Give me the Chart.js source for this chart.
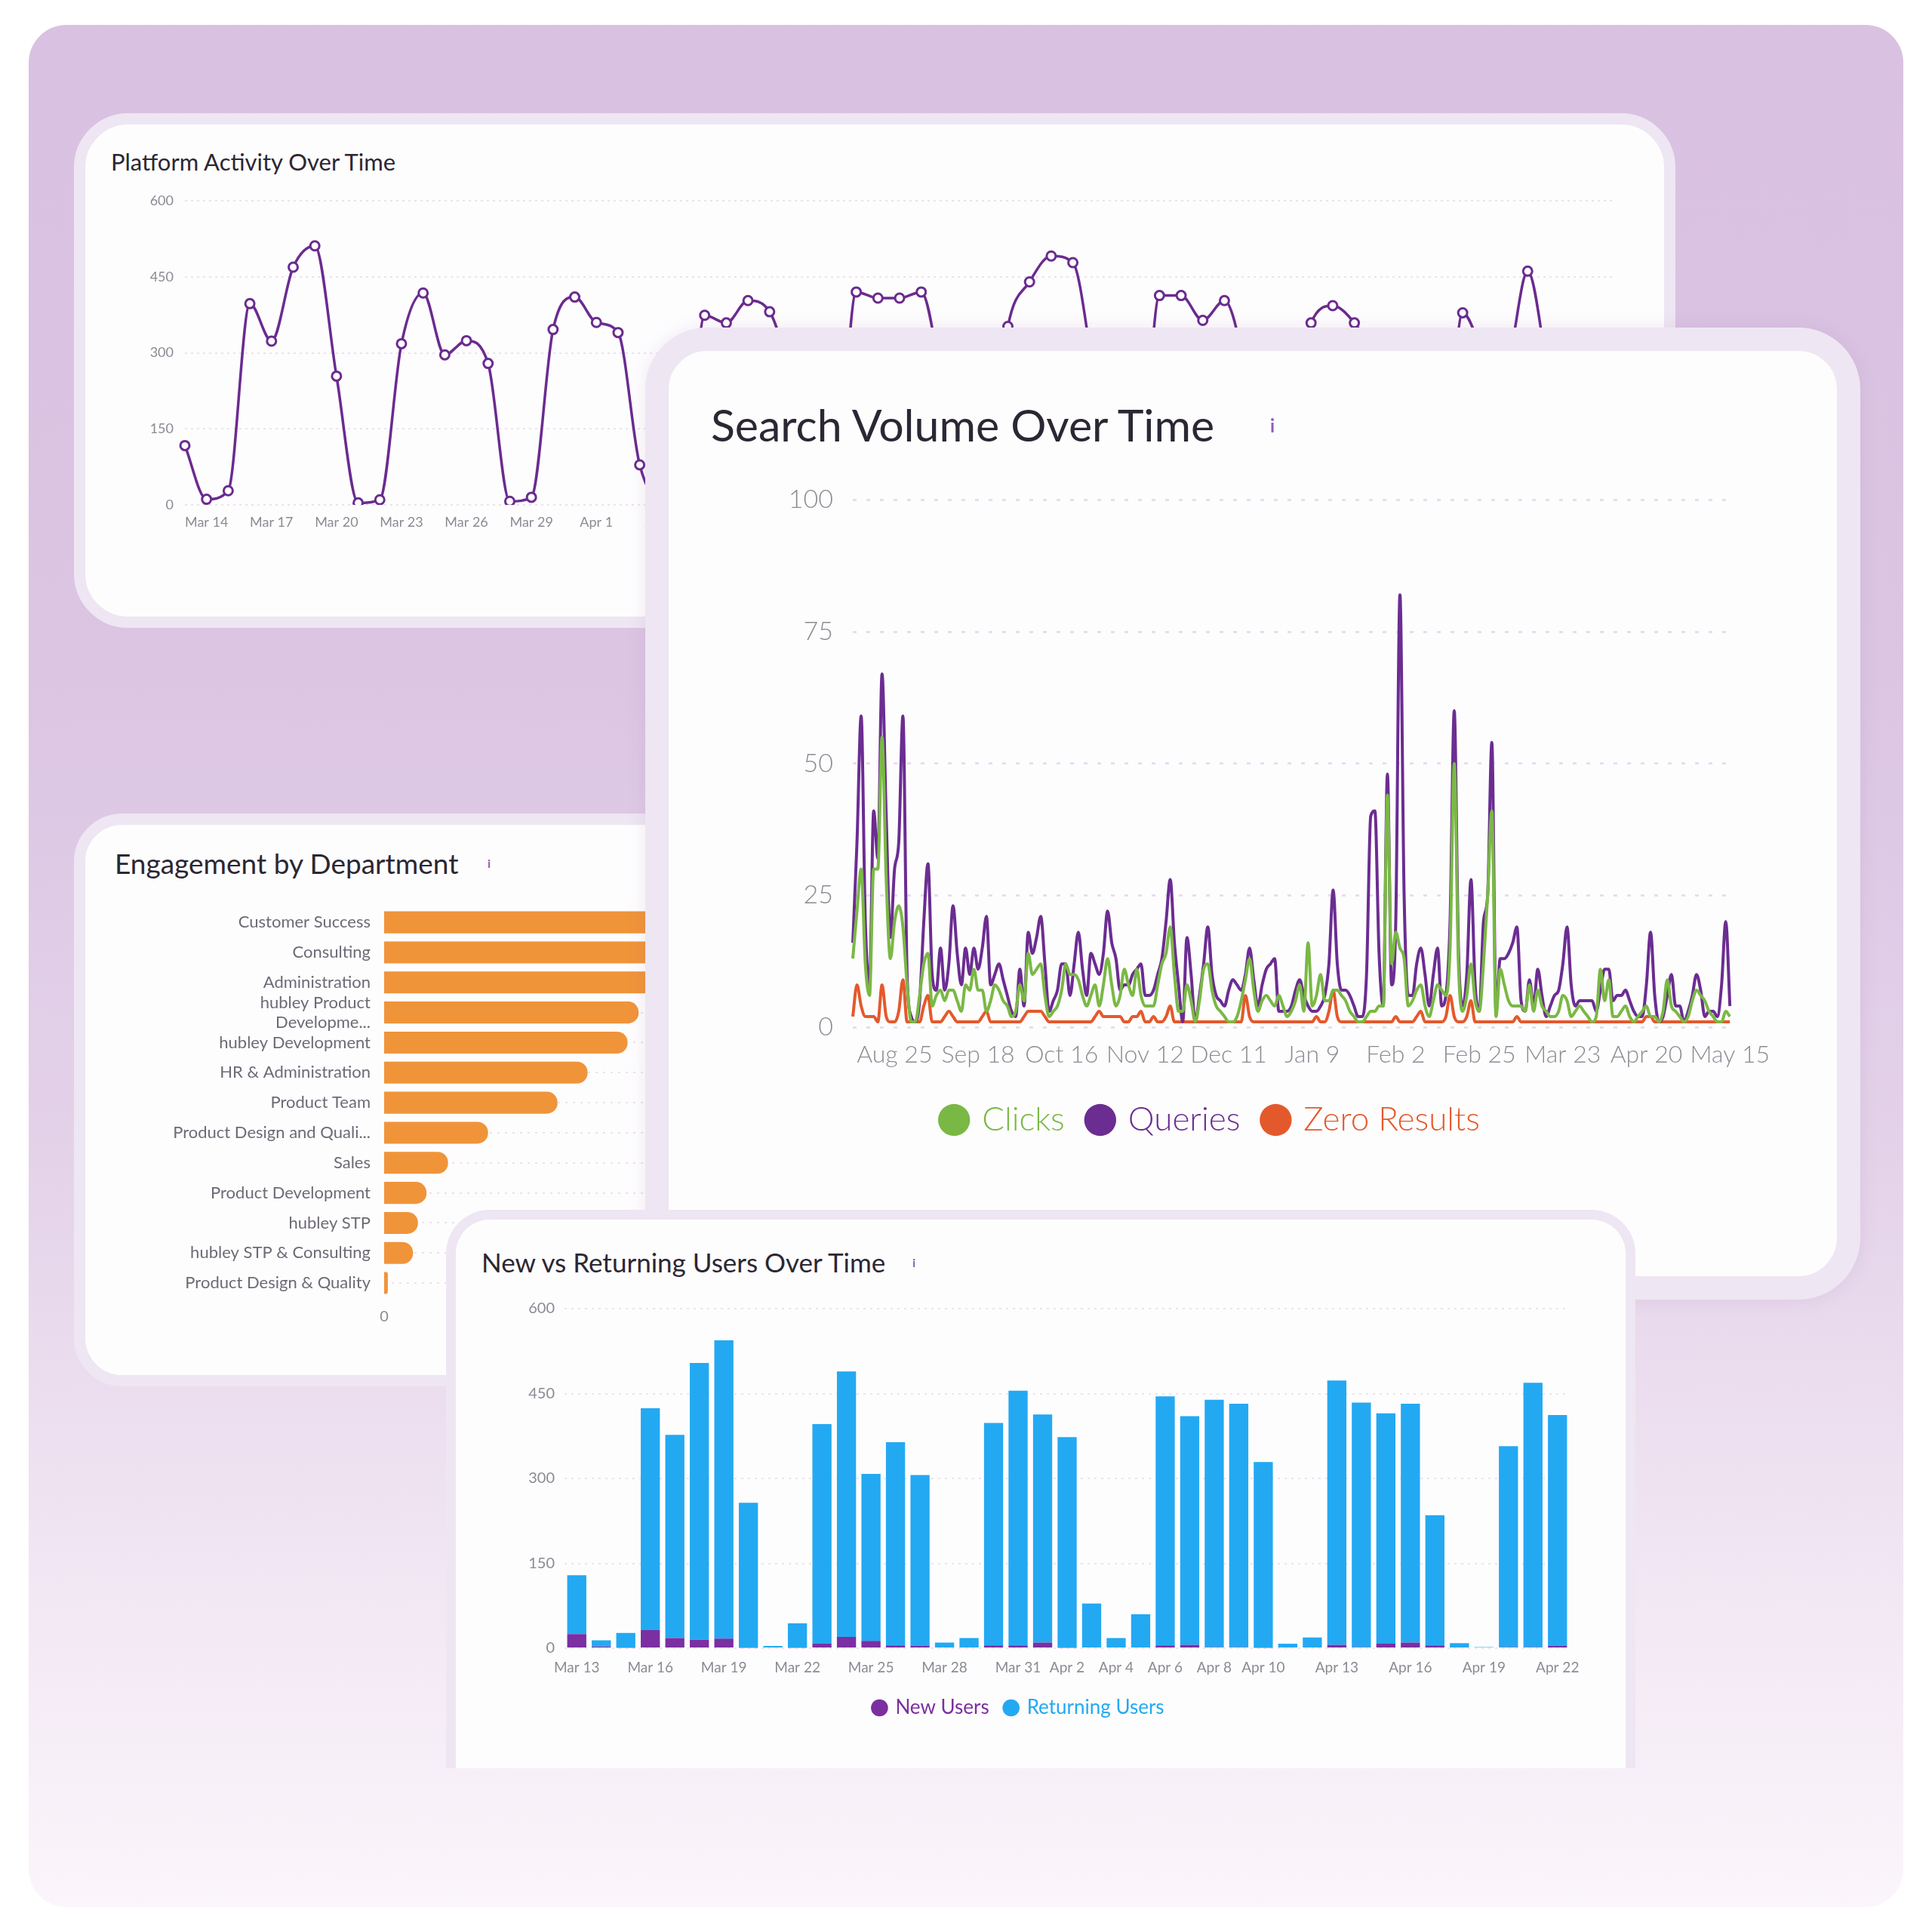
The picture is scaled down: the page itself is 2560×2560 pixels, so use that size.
<!DOCTYPE html>
<html>
<head>
<meta charset="utf-8">
<script src="https://cdn.jsdelivr.net/npm/chart.js@4.4.1/dist/chart.umd.min.js"></script>
<style>
  html, body { margin: 0; padding: 0; background: #fff; }
  body { width: 2560px; height: 2560px; position: relative; overflow: hidden; font-family: Lato, 'Open Sans', sans-serif; }
  .bg { position: absolute; left: 38px; top: 33px; width: 2484px; height: 2494px; border-radius: 50px;
        background: linear-gradient(180deg, #d9c1e1 0%, #dbc5e3 35%, #e4d2e9 60%, #f1e6f3 82%, #fbf6fb 100%); }
  .layer { position: absolute; left: 0; top: 0; }
  .card { position: absolute; box-sizing: border-box; background: #fefdfe; border: 15px solid #eee6f2; }
  .title { position: absolute; color: #2b2733; white-space: nowrap; line-height: 1; }
  .info { position: absolute; color: #8e5bc4; font-weight: 700; line-height: 1; }
  canvas { position: absolute; }
</style>
</head>
<body>
<div class="bg"></div>

<div class="layer" style="z-index:1">
  <div class="card" style="left:98px;top:150px;width:2122px;height:682px;border-radius:72px;"></div>
  <div class="title" style="left:147px;top:199px;font-size:31px;">Platform Activity Over Time</div>
  <canvas id="platform-chart" width="2093" height="480" style="left:114px;top:240px;"></canvas>
</div>

<div class="layer" style="z-index:2">
  <div class="card" style="left:98px;top:1078px;width:1320px;height:759px;border-radius:64px;"></div>
  <div class="title" style="left:152px;top:1125px;font-size:37px;">Engagement by Department</div>
  <div class="info" style="left:646px;top:1136px;font-size:16px;">i</div>
  <canvas id="engagement-chart" width="1248" height="594" style="left:114px;top:1171px;"></canvas>
</div>

<div class="layer" style="z-index:3">
  <div class="card" style="left:855px;top:434px;width:1610px;height:1288px;border-radius:82px;border-width:31px;box-shadow:0 0 24px rgba(140,90,160,0.12);"></div>
  <div class="title" style="left:942px;top:533px;font-size:59px;">Search Volume Over Time</div>
  <div class="info" style="left:1683px;top:552px;font-size:24px;">i</div>
  <canvas id="search-chart" width="1477" height="900" style="left:885px;top:616px;"></canvas>
</div>

<div class="layer" style="z-index:4">
  <div class="card" style="left:591px;top:1603px;width:1576px;height:740px;border-radius:58px 58px 0 0;border-width:13px 13px 0 13px;"></div>
  <div class="title" style="left:638px;top:1655px;font-size:35px;">New vs Returning Users Over Time</div>
  <div class="info" style="left:1209px;top:1665px;font-size:16px;">i</div>
  <canvas id="users-chart" width="1506" height="586" style="left:604px;top:1700px;"></canvas>
</div>

<script>
// ---- Platform Activity Over Time ----
const platformDates = [
  'Mar 13','Mar 14','Mar 15','Mar 16','Mar 17','Mar 18','Mar 19','Mar 20','Mar 21','Mar 22',
  'Mar 23','Mar 24','Mar 25','Mar 26','Mar 27','Mar 28','Mar 29','Mar 30','Mar 31','Apr 1',
  'Apr 2','Apr 3','Apr 4','Apr 5','Apr 6','Apr 7','Apr 8','Apr 9','Apr 10','Apr 11',
  'Apr 12','Apr 13','Apr 14','Apr 15','Apr 16','Apr 17','Apr 18','Apr 19','Apr 20','Apr 21',
  'Apr 22','Apr 23','Apr 24','Apr 25','Apr 26','Apr 27','Apr 28','Apr 29','Apr 30','May 1',
  'May 2','May 3','May 4','May 5','May 6','May 7','May 8','May 9','May 10','May 11',
  'May 12','May 13','May 14','May 15','May 16','May 17','May 18'
];
const platformActivity = [
  117, 11, 28, 397, 323, 469, 511, 254, 4, 10,
  318, 418, 296, 324, 279, 7, 15, 346, 410, 360,
  340, 79, 12, 10, 374, 359, 403, 381, 240, 9,
  14, 420, 408, 408, 420, 230, 8, 12, 352, 440,
  491, 478, 250, 10, 9, 413, 413, 364, 403, 260,
  11, 8, 359, 393, 359, 290, 210, 7, 12, 379,
  300, 280, 461, 240, 9, 6, 320
];

// ---- Engagement by Department ----
const departments = [
  'Customer Success', 'Consulting', 'Administration', ['hubley Product', 'Developme...'],
  'hubley Development', 'HR & Administration', 'Product Team', 'Product Design and Quali...',
  'Sales', 'Product Development', 'hubley STP', 'hubley STP & Consulting', 'Product Design & Quality'
];
const departmentEngagement = [540, 510, 470, 414, 396, 331, 282, 169, 104, 69, 55, 47, 6];

// ---- Search Volume Over Time ----
const searchTickLabels = ['Aug 25', 'Sep 18', 'Oct 16', 'Nov 12', 'Dec 11', 'Jan 9', 'Feb 2', 'Feb 25', 'Mar 23', 'Apr 20', 'May 15'];
const searchTickStart = 10;
const searchTickStep = 20;
const searchClicks = [
  13,22,30,12,6,30,30,55,28,13, 20,23,19,8,1,1,6,12,14,4, 6,7,5,7,7,5,3,8,7,11, 7,7,3,5,8,7,5,4,2,3,
  8,5,14,10,11,12,6,2,3,4, 7,12,10,10,
  9,6,4,6,8,4,8,13,8,4, 6,11,8,6,11,6,4,4,4,8, 12,14,19,10,3,3,8,5,1,5, 11,12,7,4,3,2,1,1,2,5,
  9,13,7,3,5,6,5,4,6,4, 2,3,5,8,
  3,16,4,6,10,5,5,7,7,6, 5,3,2,1,1,2,3,3,4,4, 44,12,18,15,13,4,5,7,8,4, 2,5,8,7,6,15,50,12,3,6,
  12,5,3,12,25,41,2,11,8,5, 4,4,4,3,
  8,3,7,4,3,2,2,3,6,5, 2,3,4,3,2,1,2,11,5,9, 2,2,3,4,2,1,2,3,4,2, 2,1,3,9,4,3,2,1,2,5,
  7,6,5,3,2,1,1,3,2
];
const searchQueries = [
  16,35,59,20,8,41,32,67,40,17, 30,35,59,10,2,1,5,20,31,10, 7,15,7,12,23,14,8,15,10,15, 11,15,21,8,10,12,9,6,3,2,
  11,4,18,14,17,21,12,3,5,7, 12,12,6,12,
  18,11,6,14,12,10,14,22,16,13, 7,8,8,10,11,12,6,6,7,10, 13,20,28,16,8,1,17,10,1,6, 12,19,10,6,5,4,7,9,8,7,
  10,15,9,4,8,11,12,13,3,3, 3,4,7,9,
  6,4,3,3,4,6,12,26,12,7, 7,6,4,2,2,10,40,41,14,4, 48,8,20,82,25,6,6,12,15,10, 4,10,15,4,6,20,60,15,4,10,
  28,8,3,20,25,54,3,13,13,14, 16,19,5,3,
  9,4,11,6,2,4,6,7,12,19, 8,4,5,5,5,5,3,7,11,11, 5,6,6,7,5,3,2,2,8,18, 6,1,2,6,10,4,4,1,3,6,
  10,7,2,3,3,2,8,20,4
];
const searchZeroResults = [
  2,8,4,2,2,2,1,8,2,1, 1,3,9,1,1,1,1,4,6,1, 1,1,2,3,2,1,1,1,1,1, 1,2,3,1,1,1,1,1,1,1,
  1,2,3,3,3,3,2,1,1,1, 1,1,1,1,
  1,1,1,1,2,3,2,2,2,2, 2,1,1,2,2,3,1,1,2,1, 1,2,4,1,1,1,1,1,1,1, 1,1,1,1,1,1,1,1,1,1,
  6,2,1,1,1,1,1,1,1,1, 1,1,1,1,
  1,1,1,2,1,1,3,7,2,1, 1,1,1,1,1,1,1,1,1,1, 1,1,2,1,1,1,1,2,3,1, 1,1,1,1,2,6,2,1,1,2,
  5,1,1,1,1,1,1,1,1,1, 1,2,1,1,
  1,1,1,1,1,1,1,1,1,1, 1,1,1,1,1,1,1,1,1,1, 1,1,1,1,1,1,1,1,2,2, 1,1,1,1,1,1,1,1,1,1,
  1,1,1,1,1,1,1,1,1
];

// ---- New vs Returning Users Over Time ----
const userDates = [
  'Mar 13','Mar 14','Mar 15','Mar 16','Mar 17','Mar 18','Mar 19','Mar 20','Mar 21','Mar 22',
  'Mar 23','Mar 24','Mar 25','Mar 26','Mar 27','Mar 28','Mar 29','Mar 30','Mar 31','Apr 1',
  'Apr 2','Apr 3','Apr 4','Apr 5','Apr 6','Apr 7','Apr 8','Apr 9','Apr 10','Apr 11',
  'Apr 12','Apr 13','Apr 14','Apr 15','Apr 16','Apr 17','Apr 18','Apr 19','Apr 20','Apr 21','Apr 22'
];
const userTickLabels = ['Mar 13','Mar 16','Mar 19','Mar 22','Mar 25','Mar 28','Mar 31','Apr 2','Apr 4','Apr 6','Apr 8','Apr 10','Apr 13','Apr 16','Apr 19','Apr 22'];
const newUsers = [25, 3, 1, 32, 18, 15, 17, 1, 0, 1, 8, 20, 13, 5, 4, 0, 0, 5, 5, 10, 1, 0, 0, 0, 5, 6, 2, 2, 1, 0, 0, 6, 2, 8, 10, 5, 0, 0, 2, 2, 4];
const returningUsers = [104, 11, 26, 392, 359, 489, 527, 256, 4, 43, 388, 469, 295, 359, 302, 10, 18, 393, 450, 403, 372, 79, 18, 60, 440, 404, 437, 430, 328, 8, 19, 467, 432, 407, 422, 230, 9, 2, 355, 467, 408];

const PURPLE = '#6a2b8f';
const GRID = '#ebe2ef';

Chart.defaults.font.family = "Lato, 'Open Sans', sans-serif";
Chart.defaults.color = '#8d8a93';

function fixWidth(w) { return scale => { scale.width = w; }; }
function fixHeight(h) { return scale => { scale.height = h; }; }

function coloredLegendLabels(chart) {
    const items = Chart.defaults.plugins.legend.labels.generateLabels(chart);
    items.forEach(item => {
        item.fontColor = chart.data.datasets[item.datasetIndex].borderColor;
        item.lineWidth = 0;
    });
    return items;
}

function renderPlatformChart() {
    const ctx = document.getElementById('platform-chart');
    new Chart(ctx, {
        type: 'line',
        data: {
            labels: platformDates,
            datasets: [{
                data: platformActivity,
                borderColor: PURPLE,
                borderWidth: 3.5,
                cubicInterpolationMode: 'monotone',
                pointRadius: 6,
                pointBorderWidth: 3,
                pointBackgroundColor: '#fff',
                pointBorderColor: PURPLE
            }]
        },
        options: {
            responsive: false,
            animation: false,
            layout: { padding: { top: 26, right: 68, bottom: 0, left: 0 } },
            plugins: { legend: { display: false }, tooltip: { enabled: false } },
            scales: {
                x: {
                    afterFit: fixHeight(51),
                    grid: { display: false, drawTicks: false },
                    border: { display: false },
                    ticks: {
                        autoSkip: false, maxRotation: 0, padding: 12, font: { size: 18 },
                        callback(value, i) { return (i - 1) % 3 === 0 ? this.getLabelForValue(value) : ''; }
                    }
                },
                y: {
                    min: 0, max: 600,
                    afterFit: fixWidth(131),
                    grid: { color: GRID, lineWidth: 2, drawTicks: false },
                    border: { display: false, dash: [3, 5] },
                    ticks: { stepSize: 150, padding: 15, font: { size: 18 } }
                }
            }
        }
    });
}

function renderEngagementChart() {
    const ctx = document.getElementById('engagement-chart');
    new Chart(ctx, {
        type: 'bar',
        data: {
            labels: departments,
            datasets: [{
                data: departmentEngagement,
                backgroundColor: '#f0943a',
                borderRadius: 14,
                borderSkipped: 'start',
                barPercentage: 0.73,
                categoryPercentage: 1
            }]
        },
        options: {
            indexAxis: 'y',
            responsive: false,
            animation: false,
            layout: { padding: { top: 16, right: 20, bottom: 0, left: 0 } },
            plugins: { legend: { display: false }, tooltip: { enabled: false } },
            scales: {
                x: {
                    min: 0, max: 1000,
                    afterFit: fixHeight(45),
                    grid: { display: false, drawTicks: false },
                    border: { display: false },
                    ticks: { stepSize: 500, padding: 13, font: { size: 20 } }
                },
                y: {
                    afterFit: fixWidth(395),
                    grid: { color: GRID, lineWidth: 2, drawTicks: false, offset: false },
                    border: { display: false, dash: [3, 7] },
                    ticks: { autoSkip: false, padding: 18, color: '#6e6a76', font: { size: 22 } }
                }
            }
        }
    });
}

function renderSearchChart() {
    const ctx = document.getElementById('search-chart');
    const labels = searchQueries.map((_, i) => {
        const k = (i - searchTickStart) / searchTickStep;
        return Number.isInteger(k) && k >= 0 ? searchTickLabels[k] : '';
    });
    const line = (label, data, color) => ({
        label, data,
        borderColor: color,
        backgroundColor: color,
        borderWidth: 4,
        pointRadius: 0,
        pointStyle: 'circle',
        cubicInterpolationMode: 'monotone'
    });
    new Chart(ctx, {
        type: 'line',
        data: {
            labels,
            datasets: [
                line('Clicks', searchClicks, '#7ab845'),
                line('Queries', searchQueries, '#6b2d91'),
                line('Zero Results', searchZeroResults, '#e4592c')
            ]
        },
        options: {
            responsive: false,
            animation: false,
            layout: { padding: { top: 43, right: 60, bottom: 0, left: 23 } },
            plugins: {
                tooltip: { enabled: false },
                legend: {
                    position: 'bottom',
                    labels: {
                        usePointStyle: true,
                        boxWidth: 30, boxHeight: 30,
                        padding: 32,
                        font: { size: 44, weight: 300 },
                        generateLabels: coloredLegendLabels
                    }
                }
            },
            scales: {
                x: {
                    afterFit: fixHeight(69),
                    grid: { display: false, drawTicks: false },
                    border: { display: false },
                    ticks: { autoSkip: false, maxRotation: 0, padding: 17, font: { size: 32, weight: 300 } }
                },
                y: {
                    min: 0, max: 100,
                    afterFit: fixWidth(222),
                    grid: { color: '#e7ddef', lineWidth: 3, drawTicks: false },
                    border: { display: false, dash: [5, 13] },
                    ticks: { stepSize: 25, padding: 26, font: { size: 34, weight: 300 } }
                }
            }
        }
    });
}

function renderUsersChart() {
    const ctx = document.getElementById('users-chart');
    new Chart(ctx, {
        type: 'bar',
        data: {
            labels: userDates,
            datasets: [{
                label: 'New Users',
                data: newUsers,
                backgroundColor: '#7b2fa0',
                borderColor: '#7b2fa0',
                barPercentage: 0.78,
                categoryPercentage: 1
            }, {
                label: 'Returning Users',
                data: returningUsers,
                backgroundColor: '#23a9f2',
                borderColor: '#23a9f2',
                barPercentage: 0.78,
                categoryPercentage: 1
            }]
        },
        options: {
            responsive: false,
            animation: false,
            layout: { padding: { top: 34, right: 30, bottom: 0, left: 16 } },
            plugins: {
                tooltip: { enabled: false },
                legend: {
                    position: 'bottom',
                    labels: {
                        usePointStyle: true,
                        pointStyle: 'circle',
                        boxWidth: 16, boxHeight: 16,
                        padding: 21,
                        font: { size: 26 },
                        generateLabels: coloredLegendLabels
                    }
                }
            },
            scales: {
                x: {
                    stacked: true,
                    afterFit: fixHeight(45),
                    grid: { display: false, drawTicks: false },
                    border: { display: false },
                    ticks: {
                        autoSkip: false, maxRotation: 0, padding: 14, font: { size: 19 },
                        callback(value) {
                            const label = this.getLabelForValue(value);
                            return userTickLabels.includes(label) ? label : '';
                        }
                    }
                },
                y: {
                    stacked: true,
                    min: 0, max: 600,
                    afterFit: fixWidth(128),
                    grid: { color: GRID, lineWidth: 2, drawTicks: false },
                    border: { display: false, dash: [3, 6] },
                    ticks: { stepSize: 150, padding: 13, font: { size: 20 } }
                }
            }
        }
    });
}

renderPlatformChart();
renderEngagementChart();
renderSearchChart();
renderUsersChart();
</script>
</body>
</html>
